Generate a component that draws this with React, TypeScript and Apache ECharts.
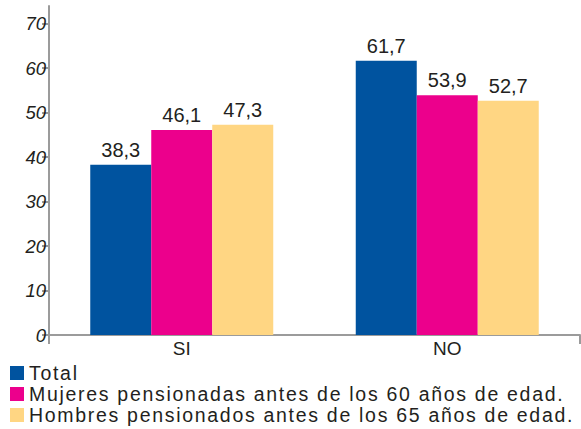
import React, { useEffect, useRef } from "react";
import * as echarts from "echarts";

const categories = ["SI", "NO"];
const seriesNames = [
  "Total",
  "Mujeres pensionadas antes de los 60 años de edad.",
  "Hombres pensionados antes de los 65 años de edad.",
];
const totalValues = [38.3, 61.7];
const mujeresValues = [46.1, 53.9];
const hombresValues = [47.3, 52.7];
const yTickValues = [0, 10, 20, 30, 40, 50, 60, 70];
const colors = ["#00539F", "#EC008C", "#FFD683"];

const textColor = "#231F20";
const axisColor = "#9B9B9B";

export default function App() {
  const ref = useRef<HTMLDivElement>(null);

  useEffect(() => {
    if (!ref.current) return;
    const chart = echarts.init(ref.current, null, { renderer: "svg" });
    const fmt = (p: any) => Number(p.value).toFixed(1).replace(".", ",");
    const mk = (name: string, data: number[], color: string) => ({
      name,
      type: "bar",
      data,
      barWidth: 61,
      barGap: "0%",
      itemStyle: { color },
      label: {
        show: true,
        position: "top",
        distance: 5,
        formatter: fmt,
        color: textColor,
        fontSize: 20,
        fontFamily: "Liberation Sans, Arial, sans-serif",
      },
    });
    chart.setOption({
      animation: false,
      grid: { left: 49, right: 1, top: 6, bottom: 94 },
      legend: {
        orient: "vertical",
        left: 10,
        top: 363,
        height: 120,
        itemWidth: 14,
        itemHeight: 14,
        itemGap: 1,
        padding: 0,
        icon: "rect",
        data: seriesNames,
        textStyle: {
          color: textColor,
          fontSize: 19.5,
          lineHeight: 20,
          fontFamily: "Liberation Sans, Arial, sans-serif",
        },
      },
      xAxis: {
        type: "category",
        data: categories,
        axisLine: { lineStyle: { color: axisColor, width: 2 } },
        axisTick: {
          show: true,
          length: 9,
          interval: (index: number) => index === 1,
          lineStyle: { color: axisColor, width: 2 },
        },
        axisLabel: {
          color: textColor,
          fontSize: 19,
          margin: 4,
          fontFamily: "Liberation Sans, Arial, sans-serif",
        },
      },
      yAxis: {
        type: "value",
        min: 0,
        max: 74,
        splitLine: { show: false },
        axisLine: { show: true, lineStyle: { color: axisColor, width: 2 } },
        axisTick: {
          show: true,
          length: 7,
          customValues: yTickValues,
          lineStyle: { color: axisColor, width: 2 },
        },
        axisLabel: {
          customValues: yTickValues,
          color: textColor,
          fontSize: 18.5,
          fontStyle: "italic",
          margin: 3,
          fontFamily: "Liberation Sans, Arial, sans-serif",
        },
      },
      series: [
        mk(seriesNames[0], totalValues, colors[0]),
        mk(seriesNames[1], mujeresValues, colors[1]),
        mk(seriesNames[2], hombresValues, colors[2]),
      ],
    });
    const spaceLegend = () => {
      if (!ref.current) return;
      ref.current.querySelectorAll("text").forEach((t) => {
        const s = (t.textContent || "").trim();
        if (seriesNames.includes(s)) {
          (t as SVGTextElement).style.letterSpacing = "1.7px";
        }
      });
    };
    spaceLegend();
    chart.on("finished", spaceLegend);
    return () => chart.dispose();
  }, []);

  return (
    <div
      ref={ref}
      style={{ position: "fixed", left: 0, top: 0, width: 581, height: 429, background: "#fff" }}
    />
  );
}
